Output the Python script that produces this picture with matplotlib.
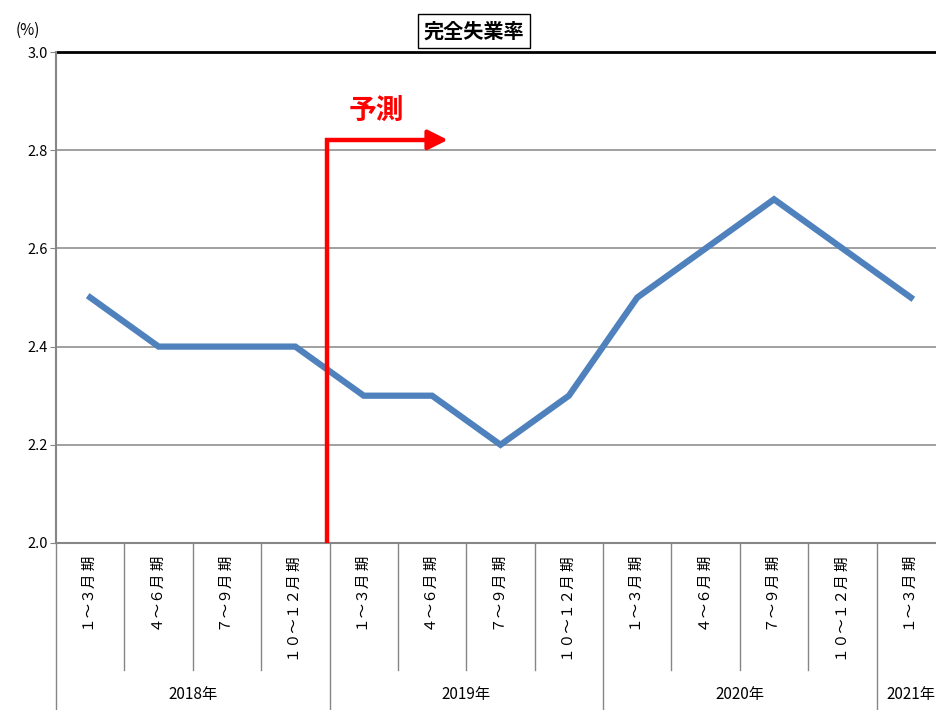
import matplotlib.pyplot as plt

plt.rcParams['font.family'] = ['Noto Sans CJK JP', 'DejaVu Sans']

quarters = ['１～３月 期', '４～６月 期', '７～９月 期', '１０～１２月 期',
            '１～３月 期', '４～６月 期', '７～９月 期', '１０～１２月 期',
            '１～３月 期', '４～６月 期', '７～９月 期', '１０～１２月 期',
            '１～３月 期']
years = ['2018年', '2019年', '2020年', '2021年']
year_counts = [4, 4, 4, 1]
rate = [2.5, 2.4, 2.4, 2.4, 2.3, 2.3, 2.2, 2.3, 2.5, 2.6, 2.7, 2.6, 2.5]
yticks = [2.0, 2.2, 2.4, 2.6, 2.8, 3.0]

W, H = 937, 710
fig = plt.figure(figsize=(W / 100, H / 100), dpi=100)
ax = fig.add_axes([56 / W, (H - 543) / H, (945 - 56) / W, (543 - 52) / H])

x = list(range(len(rate)))
ax.plot(x, rate, color='#4F81BD', lw=4.5, solid_joinstyle='miter', zorder=3)

ax.set_xlim(-0.5, len(rate) - 0.5)
ax.set_ylim(2.0, 3.0)
ax.set_yticks(yticks)
ax.set_yticklabels([f'{v:.1f}' for v in yticks], fontsize=10.5)
ax.tick_params(axis='y', length=4, color='#868686', pad=2)
ax.set_xticks([])
for v in yticks[1:-1]:
    ax.axhline(v, color='#868686', lw=1.1, zorder=1)
ax.axhline(3.0, color='black', lw=2, zorder=2, clip_on=False)
for s in ['top', 'right']:
    ax.spines[s].set_visible(False)
ax.spines['left'].set_color('#868686')
ax.spines['left'].set_linewidth(1.5)
ax.spines['bottom'].set_color('#868686')
ax.spines['bottom'].set_linewidth(1.5)

fig.text(28 / W, 1 - 30 / H, '(%)', fontsize=11, ha='center', va='center')

# category axis
tr = ax.get_xaxis_transform()
y_sep = -(670 - 543) / 491
y_grp = -(710 - 543) / 491
for i, q in enumerate(quarters):
    ax.text(i, -(556 - 543) / 491, q, transform=tr, rotation=90,
            ha='center', va='top', fontsize=10.5)
bounds = [0]
for c in year_counts:
    bounds.append(bounds[-1] + c)
for k in range(0, len(rate) + 1):
    bottom = y_grp if k in bounds else y_sep
    ax.plot([k - 0.5, k - 0.5], [0, bottom], transform=tr, color='#868686',
            lw=1, clip_on=False)
for j, yr in enumerate(years):
    xc = (bounds[j] + bounds[j + 1] - 1) / 2
    ax.text(xc, -(695 - 543) / 491, yr, transform=tr, ha='center',
            va='center', fontsize=11)

# forecast marker
xf = 3.47
yf = 2.821
ax.plot([xf, xf, 5.0], [2.0, yf, yf], color='red', lw=3.2, zorder=4,
        solid_joinstyle='miter')
ax.annotate('', xy=(5.27, yf), xytext=(4.9, yf),
            arrowprops=dict(arrowstyle='-|>', color='red', lw=3,
                            mutation_scale=30), zorder=4)
ax.text(4.19, 2.88, '予測', color='red', fontsize=20, fontweight='bold',
        ha='center', va='center')

fig.text(474 / W, 1 - 31 / H, '完全失業率', fontsize=14.5, fontweight='bold',
         ha='center', va='center',
         bbox=dict(boxstyle='square,pad=0.3', fc='white', ec='black', lw=1))

fig.savefig('out.png', dpi=100)
